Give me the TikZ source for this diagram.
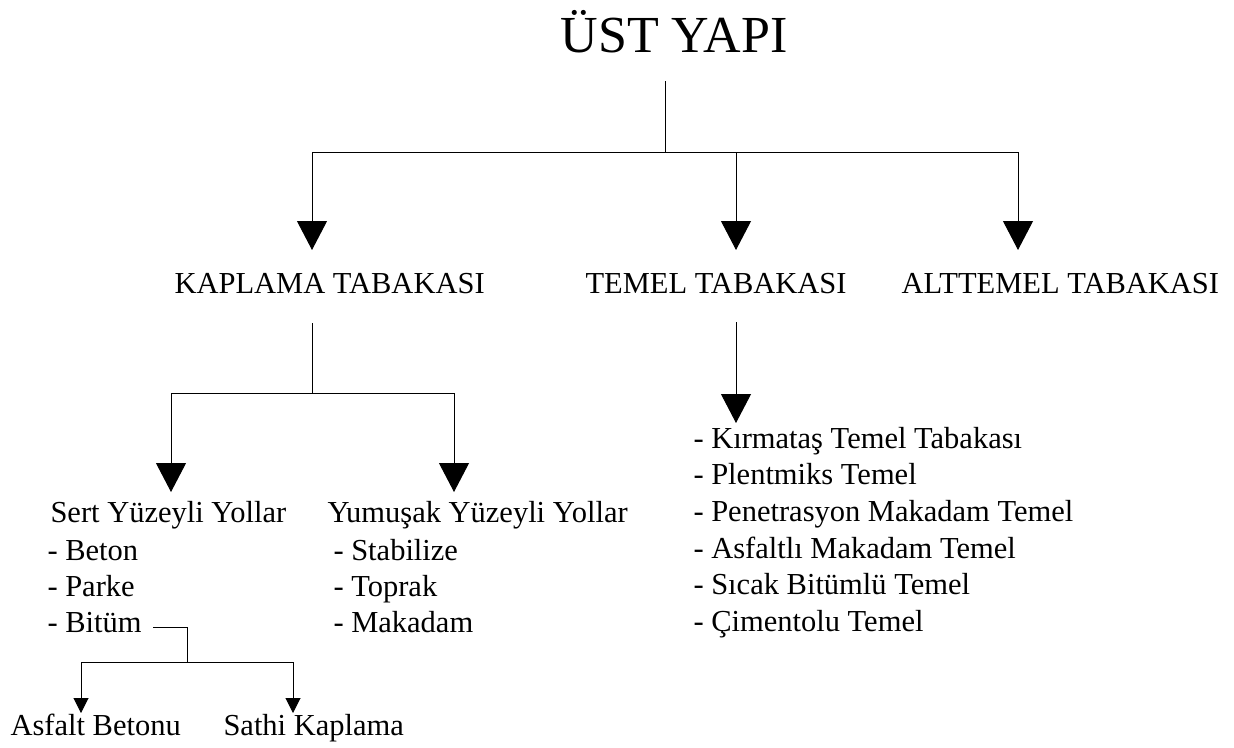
\documentclass[tikz,border=0pt]{standalone}
\usepackage{fontspec}
\setmainfont{Liberation Serif}
\usetikzlibrary{arrows.meta,positioning}

\begin{document}
\begin{tikzpicture}[x=1pt, y=-1pt, line width=1pt,
  >={Triangle[length=29pt,width=30pt]},
  baslik/.style={font=\fontsize{30.5}{36}\selectfont, inner sep=0pt, anchor=base west},
  madde/.style={baslik},
  kucuk/.style={-{Triangle[length=15pt,width=15pt]}}]
  \useasboundingbox (0,0) rectangle (1234,747);

  % ust yapi
  \node[font=\fontsize{52}{62}\selectfont, inner sep=0pt, anchor=base] (ust) at (674,52) {ÜST YAPI};
  \coordinate (ustust) at (665,81);
  \coordinate (ustalt) at (665,152);
  \draw (ustust) -- (ustalt);
  \draw (312,152) -- (1018,152);
  \foreach \x in {312,736,1018}
    \draw[->] (\x,152) -- (\x,250);

  % tabakalar
  \node[baslik] (kaplama) at (174,293) {KAPLAMA TABAKASI};
  \node[baslik] (temel) at (585,293) {TEMEL TABAKASI};
  \node[baslik] (alttemel) at (901,293) {ALTTEMEL TABAKASI};

  % kaplama dallari
  \coordinate (kapust) at (312,323);
  \coordinate (kapalt) at (312,393);
  \draw (kapust) -- (kapalt);
  \draw (171,393) -- (454,393);
  \draw[->] (171,393) -- (171,492);
  \draw[->] (454,393) -- (454,492);
  \node[baslik] (sert) at (50,522) {Sert Yüzeyli Yollar};
  \node[baslik] (yumusak) at (327,522) {Yumuşak Yüzeyli Yollar};
  \foreach \t [count=\i] in {Beton,Parke,Bitüm}
    \node[madde] (sert\i) at (47,524+36*\i) {- \t};
  \foreach \t [count=\i] in {Stabilize,Toprak,Makadam}
    \node[madde] (yum\i) at (333,524+36*\i) {- \t};

  % temel tabakasi
  \coordinate (temust) at (736,322);
  \draw[->] (temust) -- (736,423);
  \foreach \t [count=\i] in {Kırmataş Temel Tabakası,Plentmiks Temel,Penetrasyon Makadam Temel,
      Asfaltlı Makadam Temel,Sıcak Bitümlü Temel,Çimentolu Temel}
    \node[madde] (tem\i) at (693,411.3+36.7*\i) {- \t};

  % bitum
  \coordinate (bitumuc) at ([xshift=11pt,yshift=5pt]sert3.base east);
  \draw (bitumuc) -| (187,662);
  \draw (81,662) -- (293,662);
  \draw[kucuk] (81,662) -- (81,713);
  \draw[kucuk] (293,662) -- (293,713);
  \node[baslik] (asfalt) at (10,735) {Asfalt Betonu};
  \node[baslik] (sathi) at (223,735) {Sathi Kaplama};
\end{tikzpicture}
\end{document}
